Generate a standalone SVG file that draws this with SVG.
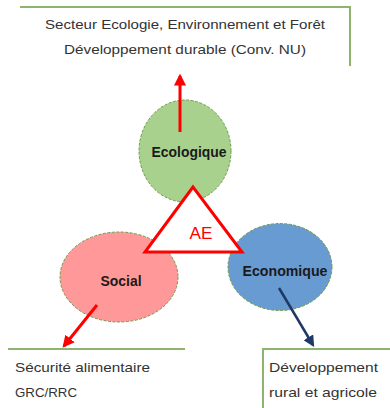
<svg xmlns="http://www.w3.org/2000/svg" width="390" height="408" viewBox="0 0 390 408">
<defs>
<style>
.t{font-family:"Liberation Sans",Arial,sans-serif;font-size:13px;fill:#333}
.b{font-family:"Liberation Sans",Arial,sans-serif;font-size:14px;font-weight:bold;fill:#1a1a1a;text-anchor:middle}
.box{fill:none;stroke:#8DB46E;stroke-width:2}
.ell{stroke:#6E9A4E;stroke-width:1;stroke-dasharray:3 1.5}
</style>
<marker id="ar" viewBox="0 0 10 10" refX="8" refY="5" markerWidth="4" markerHeight="4" orient="auto"><path d="M0,0L10,5L0,10z" fill="#FF0000"/></marker>
<marker id="ab" viewBox="0 0 10 10" refX="8" refY="5" markerWidth="4.5" markerHeight="4.5" orient="auto"><path d="M0,0L10,5L0,10z" fill="#1F3864"/></marker>
</defs>
<rect width="390" height="408" fill="#fff"/>
<g id="top-box">
<polyline class="box" points="20,7 350,7 350,66"/>
<text class="t" x="185" y="29" text-anchor="middle" textLength="280" lengthAdjust="spacingAndGlyphs">Secteur Ecologie, Environnement et Forêt</text>
<text class="t" x="185" y="54" text-anchor="middle" textLength="242" lengthAdjust="spacingAndGlyphs">Développement durable (Conv. NU)</text>
</g>
<g id="social-box">
<line class="box" x1="8" y1="349" x2="185" y2="349"/>
<text class="t" x="15" y="372" textLength="135" lengthAdjust="spacingAndGlyphs">Sécurité alimentaire</text>
<text class="t" x="15" y="397" textLength="62" lengthAdjust="spacingAndGlyphs">GRC/RRC</text>
</g>
<g id="eco-box">
<polyline class="box" points="392,349 263,349 263,408"/>
<text class="t" x="269" y="372" textLength="109" lengthAdjust="spacingAndGlyphs">Développement</text>
<text class="t" x="269" y="397" textLength="108" lengthAdjust="spacingAndGlyphs">rural et agricole</text>
</g>
<g id="ecologique">
<ellipse class="ell" cx="185" cy="151" rx="46" ry="51" fill="#A9D18E"/>
<text class="b" x="189" y="157" textLength="75" lengthAdjust="spacingAndGlyphs">Ecologique</text>
</g>
<g id="social">
<ellipse class="ell" cx="119" cy="277" rx="59" ry="45" fill="#FF9999"/>
<text class="b" x="121" y="286" textLength="41" lengthAdjust="spacingAndGlyphs">Social</text>
</g>
<g id="economique">
<ellipse class="ell" cx="280" cy="267" rx="52" ry="43.5" fill="#699BD3"/>
<text class="b" x="285" y="276" textLength="85" lengthAdjust="spacingAndGlyphs">Economique</text>
</g>
<g id="ae">
<polygon points="193,187 145,252 242,252" fill="#fff" stroke="#FF0000" stroke-width="3" stroke-linejoin="miter"/>
<text x="201" y="239" font-family="'Liberation Sans',Arial,sans-serif" font-size="17" fill="#FF0000" text-anchor="middle" textLength="23" lengthAdjust="spacingAndGlyphs">AE</text>
</g>
<g id="connectors">
<line x1="180" y1="132" x2="180" y2="76" stroke="#FF0000" stroke-width="3" marker-end="url(#ar)"/>
<line x1="97" y1="305" x2="64" y2="346" stroke="#FF0000" stroke-width="3" marker-end="url(#ar)"/>
<line x1="279" y1="288" x2="313" y2="345" stroke="#1F3864" stroke-width="2.5" marker-end="url(#ab)"/>
</g>
</svg>
